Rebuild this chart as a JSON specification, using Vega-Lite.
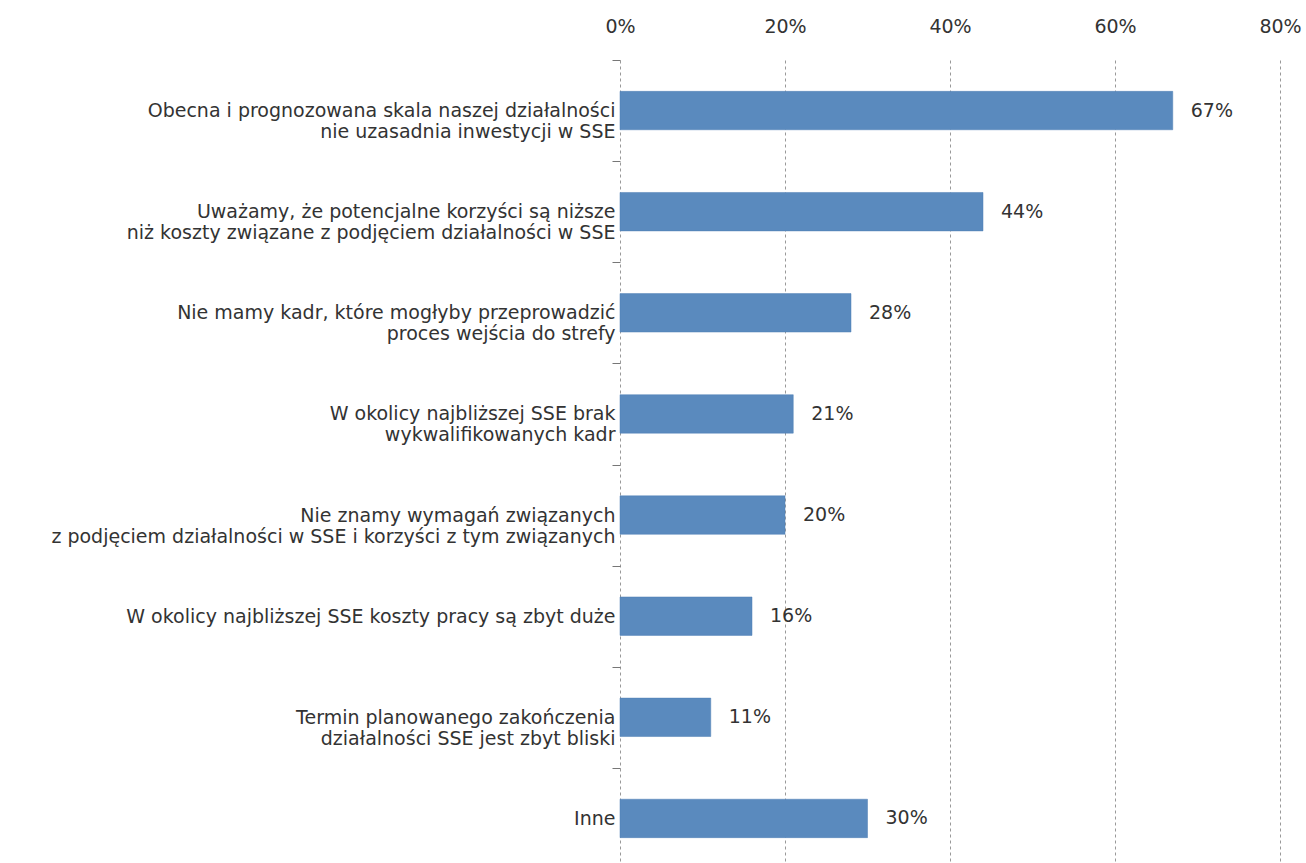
{
  "$schema": "https://vega.github.io/schema/vega-lite/v6.json",
  "width": 660,
  "height": 809,
  "autosize": {"type": "none"},
  "padding": {"left": 620, "top": 60, "right": 26, "bottom": 0},
  "background": "white",
  "config": {
    "view": {"stroke": null},
    "font": "DejaVu Sans, sans-serif"
  },
  "data": {
    "values": [
      {"reason": "Obecna i prognozowana skala naszej działalności|nie uzasadnia inwestycji w SSE", "share": 0.67},
      {"reason": "Uważamy, że potencjalne korzyści są niższe|niż koszty związane z podjęciem działalności w SSE", "share": 0.44},
      {"reason": "Nie mamy kadr, które mogłyby przeprowadzić|proces wejścia do strefy", "share": 0.28},
      {"reason": "W okolicy najbliższej SSE brak|wykwalifikowanych kadr", "share": 0.21},
      {"reason": "Nie znamy wymagań związanych|z podjęciem działalności w SSE i korzyści z tym związanych", "share": 0.20},
      {"reason": "W okolicy najbliższej SSE koszty pracy są zbyt duże", "share": 0.16},
      {"reason": "Termin planowanego zakończenia|działalności SSE jest zbyt bliski", "share": 0.11},
      {"reason": "Inne", "share": 0.30}
    ]
  },
  "encoding": {
    "y": {
      "field": "reason",
      "type": "nominal",
      "sort": null,
      "title": null,
      "scale": {"paddingInner": 0, "paddingOuter": 0},
      "axis": {
        "orient": "left",
        "domain": false,
        "ticks": true,
        "tickBand": "extent",
        "tickSize": 8,
        "tickColor": "#777777",
        "labelPadding": -3,
        "labelFontSize": 19,
        "labelColor": "#333333",
        "labelLineHeight": 21,
        "labelLimit": 700,
        "labelExpr": "split(datum.label, '|')"
      }
    },
    "x": {
      "field": "share",
      "type": "quantitative",
      "title": null,
      "scale": {"domain": [0, 0.8], "nice": false},
      "axis": {
        "orient": "top",
        "format": ".0%",
        "values": [0, 0.2, 0.4, 0.6, 0.8],
        "domain": false,
        "ticks": false,
        "labelFlush": false,
        "labelPadding": 24,
        "labelFontSize": 19,
        "labelColor": "#333333",
        "grid": true,
        "gridColor": "#999999",
        "gridDash": [3, 3],
        "gridWidth": 1
      }
    }
  },
  "layer": [
    {
      "mark": {"type": "bar", "color": "#5A8ABE", "stroke": "#4F7FB5", "strokeWidth": 0.5, "height": {"band": 0.38}}
    },
    {
      "mark": {"type": "text", "align": "left", "baseline": "middle", "dx": 18, "fontSize": 19, "color": "#333333"},
      "encoding": {
        "text": {"field": "share", "type": "quantitative", "format": ".0%"}
      }
    }
  ]
}
